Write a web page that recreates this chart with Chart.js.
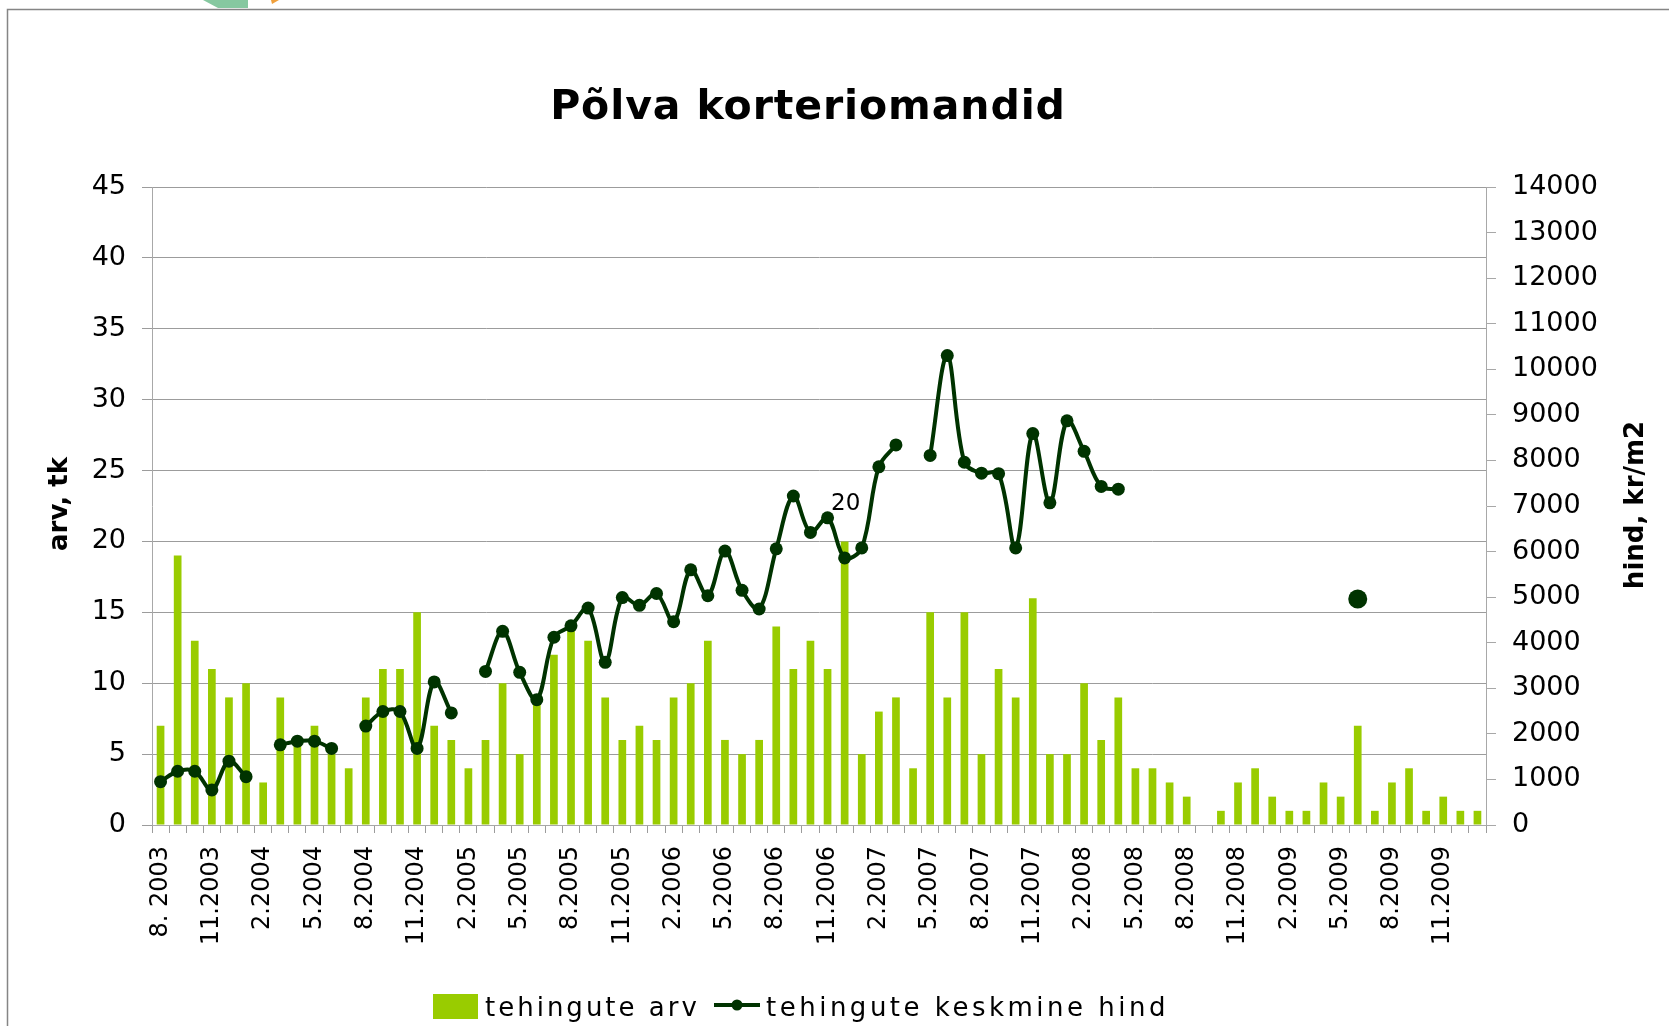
<!DOCTYPE html>
<html>
<head>
<meta charset="utf-8">
<title>Põlva korteriomandid</title>
<script src="https://cdn.jsdelivr.net/npm/chart.js@4.4.1/dist/chart.umd.min.js"></script>
<style>
  html, body { margin: 0; padding: 0; background: #ffffff; }
  #wrap { position: relative; width: 1669px; height: 1026px; overflow: hidden; }
  canvas { display: block; }
</style>
</head>
<body>
<div id="wrap"><canvas id="chart" width="1669" height="1026"></canvas></div>
<script>
// Monthly categories, August 2003 – January 2010
const months = [
  '8. 2003', '9.2003', '10.2003', '11.2003', '12.2003',
  '1.2004', '2.2004', '3.2004', '4.2004', '5.2004', '6.2004', '7.2004', '8.2004', '9.2004', '10.2004', '11.2004', '12.2004',
  '1.2005', '2.2005', '3.2005', '4.2005', '5.2005', '6.2005', '7.2005', '8.2005', '9.2005', '10.2005', '11.2005', '12.2005',
  '1.2006', '2.2006', '3.2006', '4.2006', '5.2006', '6.2006', '7.2006', '8.2006', '9.2006', '10.2006', '11.2006', '12.2006',
  '1.2007', '2.2007', '3.2007', '4.2007', '5.2007', '6.2007', '7.2007', '8.2007', '9.2007', '10.2007', '11.2007', '12.2007',
  '1.2008', '2.2008', '3.2008', '4.2008', '5.2008', '6.2008', '7.2008', '8.2008', '9.2008', '10.2008', '11.2008', '12.2008',
  '1.2009', '2.2009', '3.2009', '4.2009', '5.2009', '6.2009', '7.2009', '8.2009', '9.2009', '10.2009', '11.2009', '12.2009',
  '1.2010'
];

// Number of deals per month (left axis, pcs)
const dealCounts = [
  7, 19, 13, 11, 9,
  10, 3, 9, 6, 7, 5, 4, 9, 11, 11, 15, 7,
  6, 4, 6, 10, 5, 9, 12, 14, 13, 9, 6, 7,
  6, 9, 10, 13, 6, 5, 6, 14, 11, 13, 11, 20,
  5, 8, 9, 4, 15, 9, 15, 5, 11, 9, 16, 5,
  5, 10, 6, 9, 4, 4, 3, 2, 0, 1, 3, 4,
  2, 1, 1, 3, 2, 7, 1, 3, 4, 1, 2, 1,
  1
];

// Average price per month (right axis, kr/m2); null = no data
const avgPrices = [
  950, 1180, 1180, 770, 1400,
  1060, null, 1760, 1840, 1840, 1680, null, 2170, 2490, 2490, 1680, 3140,
  2460, null, 3370, 4250, 3350, 2750, 4120, 4370, 4760, 3570, 4990, 4820,
  5080, 4460, 5600, 5030, 6010, 5150, 4740, 6060, 7220, 6420, 6740, 5860,
  6080, 7860, 8340, null, 8110, 10300, 7960, 7720, 7710, 6080, 8590, 7070,
  8870, 8200, 7430, 7370, null, null, null, null, null, null, null, null,
  null, null, null, null, null, 4960, null, null, null, null, null, null,
  null
];

// Month whose deal count carries a value label
const labelledMonth = '12.2006';

const chartTitle = 'Põlva korteriomandid';
const leftAxisTitle = 'arv, tk';
const rightAxisTitle = 'hind, kr/m2';
const seriesNames = ['tehingute arv', 'tehingute keskmine hind'];

const BAR_COLOR = '#99cc00';
const LINE_COLOR = '#003300';
const GRID_COLOR = '#9c9c9c';
const AXIS_COLOR = '#a8a8a8';

Chart.defaults.font.family = '"DejaVu Sans", sans-serif';
Chart.defaults.color = '#000000';

// Frame, title, axis titles, value label and legend
const decorations = {
  id: 'decorations',
  beforeDraw(chart) {
    const ctx = chart.ctx;
    ctx.save();
    // slide logo fragment along the top edge
    ctx.fillStyle = '#86c8a0';
    ctx.beginPath();
    ctx.moveTo(203, 0); ctx.lineTo(248, 0); ctx.lineTo(248, 8); ctx.lineTo(218, 8);
    ctx.closePath(); ctx.fill();
    ctx.fillStyle = '#f0a03c';
    ctx.beginPath();
    ctx.moveTo(271, 0); ctx.lineTo(279, 0); ctx.lineTo(272, 4);
    ctx.closePath(); ctx.fill();
    // outer frame
    ctx.strokeStyle = '#858585';
    ctx.lineWidth = 1.5;
    ctx.beginPath();
    ctx.moveTo(7.5, 1026); ctx.lineTo(7.5, 9.5); ctx.lineTo(1669, 9.5);
    ctx.stroke();
    ctx.restore();
  },
  afterDatasetsDraw(chart) {
    const ctx = chart.ctx;
    const i = months.indexOf(labelledMonth);
    if (i < 0) return;
    const bar = chart.getDatasetMeta(1).data[i];
    const yTop = chart.scales.y.getPixelForValue(dealCounts[i]);
    ctx.save();
    ctx.font = '23px "DejaVu Sans"';
    ctx.fillStyle = '#000';
    ctx.textAlign = 'center';
    ctx.textBaseline = 'middle';
    ctx.fillText(String(dealCounts[i]), bar.x + 1, yTop - 37);
    ctx.restore();
  },
  afterDraw(chart) {
    const ctx = chart.ctx;
    ctx.save();
    ctx.fillStyle = '#000';

    // chart title
    ctx.font = 'bold 41px "DejaVu Sans"';
    ctx.letterSpacing = '0.9px';
    ctx.textAlign = 'center';
    ctx.textBaseline = 'alphabetic';
    ctx.fillText(chartTitle, 808, 119);

    // axis titles, reading bottom to top
    ctx.letterSpacing = '0px';
    ctx.font = 'bold 26px "DejaVu Sans"';
    ctx.textBaseline = 'middle';
    ctx.save();
    ctx.translate(60, 504);
    ctx.rotate(-Math.PI / 2);
    ctx.fillText(leftAxisTitle, 0, 0);
    ctx.restore();
    ctx.save();
    ctx.translate(1636, 505);
    ctx.rotate(-Math.PI / 2);
    ctx.fillText(rightAxisTitle, 0, 0);
    ctx.restore();

    // legend
    ctx.fillStyle = BAR_COLOR;
    ctx.fillRect(433, 994, 45, 25);
    ctx.strokeStyle = LINE_COLOR;
    ctx.lineWidth = 4;
    ctx.beginPath();
    ctx.moveTo(714, 1005); ctx.lineTo(760, 1005);
    ctx.stroke();
    ctx.fillStyle = LINE_COLOR;
    ctx.beginPath();
    ctx.arc(737, 1005, 5.5, 0, Math.PI * 2);
    ctx.fill();
    ctx.fillStyle = '#000';
    ctx.font = '26px "DejaVu Sans"';
    ctx.textAlign = 'left';
    ctx.textBaseline = 'alphabetic';
    ctx.letterSpacing = '3px';
    ctx.fillText(seriesNames[0], 485, 1016);
    ctx.letterSpacing = '3.5px';
    ctx.fillText(seriesNames[1], 766, 1016);
    ctx.restore();
  }
};

function isolatedPoint(i) {
  const prev = i > 0 ? avgPrices[i - 1] : null;
  const next = i < avgPrices.length - 1 ? avgPrices[i + 1] : null;
  return avgPrices[i] !== null && prev === null && next === null;
}

new Chart(document.getElementById('chart'), {
  type: 'bar',
  data: {
    labels: months,
    datasets: [
      {
        type: 'line',
        label: seriesNames[1],
        data: avgPrices,
        yAxisID: 'y1',
        order: 0,
        borderColor: LINE_COLOR,
        borderWidth: 4,
        backgroundColor: LINE_COLOR,
        pointBackgroundColor: LINE_COLOR,
        pointBorderColor: LINE_COLOR,
        pointBorderWidth: 0,
        pointRadius: (c) => isolatedPoint(c.dataIndex) ? 9.5 : 6.5,
        tension: 0.35,
        spanGaps: false,
        fill: false
      },
      {
        type: 'bar',
        label: seriesNames[0],
        data: dealCounts,
        yAxisID: 'y',
        order: 1,
        backgroundColor: BAR_COLOR,
        borderWidth: 0,
        barPercentage: 0.45,
        categoryPercentage: 1.0
      }
    ]
  },
  options: {
    responsive: false,
    devicePixelRatio: 1,
    animation: false,
    events: [],
    layout: { padding: { top: 187, left: 0, right: 0, bottom: 0 } },
    plugins: {
      legend: { display: false },
      title: { display: false },
      tooltip: { enabled: false }
    },
    scales: {
      x: {
        type: 'category',
        offset: true,
        grid: {
          offset: true,
          drawOnChartArea: false,
          drawTicks: true,
          tickLength: 8,
          color: GRID_COLOR,
          lineWidth: 1
        },
        border: { display: true, color: AXIS_COLOR, width: 1 },
        ticks: {
          autoSkip: false,
          minRotation: 90,
          maxRotation: 90,
          padding: 13,
          font: { size: 24 },
          color: '#000',
          callback: (value, index) => (index % 3 === 0 ? months[index] : '')
        },
        afterFit: (s) => { s.height = 201; }
      },
      y: {
        position: 'left',
        min: 0,
        max: 45,
        ticks: {
          stepSize: 5,
          padding: 16,
          font: { size: 27 },
          color: '#000',
          callback: (v) => String(v)
        },
        grid: { color: GRID_COLOR, lineWidth: 1, drawTicks: true, tickLength: 10 },
        border: { display: true, color: AXIS_COLOR, width: 1 },
        afterFit: (s) => { s.width = 152; }
      },
      y1: {
        position: 'right',
        min: 0,
        max: 14000,
        ticks: {
          stepSize: 1000,
          padding: 16,
          font: { size: 27 },
          color: '#000',
          callback: (v) => String(v)
        },
        grid: { drawOnChartArea: false, drawTicks: true, tickLength: 10, color: AXIS_COLOR, lineWidth: 1 },
        border: { display: true, color: AXIS_COLOR, width: 1 },
        afterFit: (s) => { s.width = 183; }
      }
    }
  },
  plugins: [decorations]
});
</script>
</body>
</html>
